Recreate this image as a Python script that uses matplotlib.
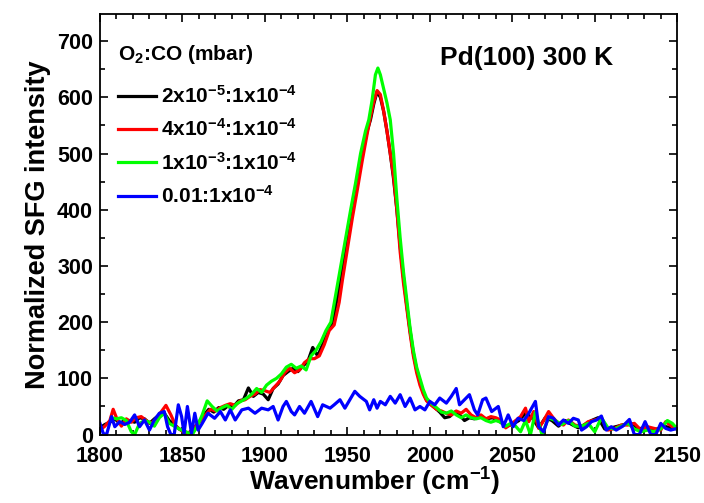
import matplotlib
matplotlib.use("Agg")
import matplotlib.pyplot as plt
from matplotlib.ticker import MultipleLocator

plt.rcParams["font.family"] = "Liberation Sans"
plt.rcParams["font.weight"] = "bold"
plt.rcParams["mathtext.fontset"] = "custom"
plt.rcParams["mathtext.rm"] = "Liberation Sans:bold"
plt.rcParams["mathtext.it"] = "Liberation Sans:bold"
plt.rcParams["mathtext.bf"] = "Liberation Sans:bold"
plt.rcParams["mathtext.default"] = "rm"

# O2:CO = 2e-5 : 1e-4 (black)
wn_k = [1800, 1803, 1806, 1809, 1812, 1815, 1818, 1821, 1824, 1827, 1830, 1833, 1836, 1839,
        1842, 1845, 1848, 1851, 1854, 1857, 1860, 1863, 1866, 1869, 1872, 1875, 1878, 1881,
        1884, 1887, 1890, 1893, 1896, 1899, 1902, 1905, 1908, 1911, 1914, 1917, 1920, 1923,
        1926, 1929, 1932, 1935, 1938, 1941, 1944, 1947, 1950, 1953, 1956, 1959, 1962, 1964,
        1966, 1968, 1970, 1972, 1974, 1976, 1978, 1980, 1982, 1984, 1986, 1988, 1990, 1992,
        1994, 1996, 1998, 2000, 2003, 2006, 2009, 2012, 2015, 2018, 2021, 2024, 2027, 2030,
        2034, 2038, 2042, 2046, 2050, 2054, 2058, 2062, 2066, 2070, 2074, 2078, 2082, 2086,
        2090, 2094, 2098, 2102, 2106, 2110, 2114, 2118, 2122, 2126, 2130, 2134, 2138, 2142,
        2146, 2150]
int_k = [12, 18, 22, 28, 20, 25, 25, 22, 30, 28, 20, 28, 35, 38,
         25, 18, 10, 5, 3, 12, 22, 35, 45, 40, 48, 45, 52, 50,
         60, 62, 83, 68, 75, 72, 62, 82, 90, 105, 112, 118, 112, 122,
         130, 155, 140, 160, 185, 200, 245, 295, 345, 395, 445, 497, 540, 560,
         588, 610, 600, 575, 540, 500, 455, 400, 335, 280, 230, 185, 145, 115,
         95, 75, 62, 55, 48, 40, 30, 32, 40, 35, 25, 30, 28, 33,
         28, 30, 24, 15, 18, 25, 38, 30, 12, 30, 25, 15, 25, 18,
         12, 18, 25, 30, 10, 12, 15, 18, 20, 10, 12, 8, 10, 15,
         12, 10]

# O2:CO = 4e-4 : 1e-4 (red)
wn_r = [1800, 1803, 1806, 1808, 1810, 1813, 1816, 1819, 1822, 1825, 1828, 1831, 1834, 1837,
        1840, 1843, 1846, 1849, 1852, 1855, 1858, 1861, 1864, 1867, 1870, 1873, 1876, 1879,
        1882, 1885, 1888, 1891, 1894, 1897, 1900, 1903, 1906, 1909, 1912, 1915, 1918, 1921,
        1924, 1927, 1930, 1933, 1936, 1939, 1942, 1945, 1947, 1950, 1953, 1956, 1959, 1962,
        1964, 1966, 1968, 1970, 1972, 1974, 1976, 1978, 1980, 1982, 1984, 1986, 1988, 1990,
        1992, 1994, 1996, 1998, 2001, 2004, 2007, 2010, 2013, 2016, 2019, 2022, 2025, 2028,
        2031, 2034, 2037, 2040, 2043, 2046, 2049, 2052, 2055, 2058, 2060, 2063, 2066, 2069,
        2072, 2075, 2078, 2081, 2084, 2088, 2092, 2096, 2100, 2104, 2108, 2112, 2116, 2120,
        2124, 2128, 2132, 2136, 2140, 2143, 2147, 2150]
int_r = [8, 15, 25, 45, 30, 15, 28, 22, 30, 32, 25, 20, 28, 40,
         52, 35, 15, 8, 2, 5, 15, 25, 35, 45, 42, 48, 52, 55,
         52, 60, 62, 68, 72, 80, 78, 75, 85, 95, 110, 118, 110, 115,
         128, 135, 135, 140, 160, 185, 195, 235, 275, 330, 385, 435, 487, 535,
         565, 592, 612, 605, 575, 540, 500, 460, 400, 325, 270, 225, 180, 140,
         110, 88, 72, 60, 52, 45, 42, 38, 35, 42, 38, 45, 35, 30,
         35, 28, 32, 30, 26, 12, 18, 25, 32, 47, 23, 41, 11, 25,
         41, 29, 20, 17, 26, 17, 14, 23, 26, 29, 8, 11, 17, 17,
         20, 8, 14, 11, 8, 23, 14, 14]

# O2:CO = 1e-3 : 1e-4 (green)
wn_g = [1807, 1810, 1813, 1816, 1819, 1821, 1824, 1827, 1830, 1833, 1836, 1839, 1842, 1845,
        1848, 1852, 1856, 1859, 1862, 1865, 1868, 1871, 1874, 1877, 1880, 1883, 1886, 1889,
        1892, 1895, 1898, 1901, 1904, 1907, 1910, 1913, 1916, 1919, 1922, 1925, 1928, 1931,
        1934, 1937, 1940, 1943, 1946, 1949, 1952, 1955, 1958, 1961, 1963, 1965, 1967, 1968.5,
        1970, 1972, 1974, 1976, 1978, 1980, 1982, 1984, 1986, 1988, 1990, 1992, 1994, 1996,
        1998, 2001, 2004, 2007, 2010, 2013, 2016, 2019, 2022, 2025, 2028, 2031, 2034, 2037,
        2040, 2043, 2046, 2049, 2052, 2055, 2058, 2061, 2064, 2068, 2072, 2076, 2080, 2084,
        2088, 2092, 2096, 2100, 2104, 2108, 2112, 2116, 2120, 2124, 2128, 2132, 2136, 2140,
        2144, 2147, 2150]
int_g = [30, 28, 30, 25, 5, 0, 20, 25, 22, 15, 30, 38, 20, 15,
         10, 5, 0, 15, 35, 60, 50, 42, 48, 52, 45, 55, 60, 65,
         72, 82, 75, 88, 95, 100, 108, 120, 125, 118, 122, 115, 140, 150,
         165, 185, 200, 250, 300, 350, 400, 448, 500, 540, 560, 595, 640, 652,
         640, 615, 590, 560, 500, 420, 350, 290, 240, 190, 150, 120, 100, 80,
         65, 55, 48, 40, 38, 42, 35, 30, 35, 30, 28, 30, 25, 22,
         25, 22, 15, 20, 15, 5, 25, 0, 40, 0, 30, 25, 18, 25,
         15, 15, 20, 5, 30, 12, 10, 15, 20, 10, 5, 8, 5, 10,
         25, 20, 10]

# O2:CO = 0.01 : 1e-4 (blue)
wn_b = [1800, 1802, 1804, 1807, 1809, 1812, 1815, 1818, 1821, 1824, 1827, 1830, 1833, 1836,
        1839, 1841, 1843, 1845, 1847.5, 1849.5, 1851, 1853, 1855.5, 1857.5, 1859.5, 1862,
        1865.5, 1869.5, 1873, 1876, 1879, 1882, 1886, 1890, 1894, 1898, 1902, 1905, 1908,
        1911, 1913, 1916, 1918, 1921, 1924, 1928, 1932, 1935, 1939.5, 1942, 1945.5, 1948.5,
        1951.5, 1954.5, 1957.5, 1961.5, 1963.5, 1966, 1968, 1970, 1973, 1976, 1979, 1982,
        1985, 1988, 1991, 1994, 1997, 2000, 2003, 2006, 2010, 2013, 2016, 2018, 2021, 2024,
        2027, 2029, 2032, 2034, 2037.5, 2041.5, 2044.5, 2047.5, 2050.5, 2053.5, 2057, 2060,
        2064, 2066, 2069, 2072, 2075, 2078, 2081, 2084, 2087, 2090, 2092, 2095, 2098, 2101,
        2104, 2107, 2110, 2113, 2117, 2121, 2124, 2127, 2130.5, 2134, 2137, 2140, 2143, 2146,
        2150]
int_b = [20, 2, 0, 32, 14, 23, 18, 22, 35, 14, 26, 8, 26, 38,
         41, 14, 0, 0, 53, 32, 2, 50, 2, 38, 8, 20,
         38, 29, 41, 26, 44, 26, 44, 47, 38, 47, 44, 50, 26,
         50, 59, 41, 35, 50, 38, 59, 32, 53, 47, 53, 62, 47,
         62, 77, 68, 59, 44, 62, 47, 59, 53, 68, 56, 71,
         50, 65, 44, 50, 44, 59, 53, 65, 56, 68, 82, 53, 62, 71,
         44, 35, 62, 65, 41, 50, 14, 35, 14, 29, 25, 38,
         59, 14, 5, 32, 29, 17, 26, 20, 29, 26, 8, 14, 23, 26,
         33, 8, 14, 8, 15, 27, 0, 0, 23, 0, 0, 20, 11, 8,
         11]

labels = ["2x10$^{-5}$:1x10$^{-4}$", "4x10$^{-4}$:1x10$^{-4}$",
          "1x10$^{-3}$:1x10$^{-4}$", "0.01:1x10$^{-4}$"]

fig = plt.figure(figsize=(7.04, 5.03), dpi=100)
ax = fig.add_axes([0.142, 0.136, 0.820, 0.836])

ax.plot(wn_k, int_k, color="#000000", lw=2.3, label=labels[0])
ax.plot(wn_r, int_r, color="#ff0000", lw=2.3, label=labels[1])
ax.plot(wn_g, int_g, color="#00ff00", lw=2.3, label=labels[2])
ax.plot(wn_b, int_b, color="#0000ff", lw=2.3, label=labels[3])

ax.set_xlim(1800, 2150)
ax.set_ylim(0, 748)
ax.xaxis.set_major_locator(MultipleLocator(50))
ax.xaxis.set_minor_locator(MultipleLocator(10))
ax.yaxis.set_major_locator(MultipleLocator(100))
ax.yaxis.set_minor_locator(MultipleLocator(50))
ax.tick_params(which="both", direction="in", top=True, right=True, width=1.2,
               labelsize=15.5)
ax.tick_params(axis="x", pad=8)
ax.tick_params(axis="y", pad=5)
ax.tick_params(which="major", length=6)
ax.tick_params(which="minor", length=3.5)
for lab in ax.get_xticklabels() + ax.get_yticklabels():
    lab.set_fontweight("bold")
for s in ax.spines.values():
    s.set_linewidth(1.3)

ax.set_xlabel("Wavenumber (cm$^{-1}$)", fontsize=19, fontweight="bold", labelpad=3)
ax.xaxis.set_label_coords(0.475, -0.075)
ax.set_ylabel("Normalized SFG intensity", fontsize=19.5, fontweight="bold", labelpad=4)

ax.text(0.589, 0.879, "Pd(100) 300 K", transform=ax.transAxes, fontsize=19,
        fontweight="bold")

leg = ax.legend(loc="upper left", bbox_to_anchor=(0.01, 0.962), frameon=False,
                title="O$_2$:CO (mbar)", fontsize=15, title_fontsize=15,
                handlelength=1.8, handletextpad=0.25, labelspacing=0.55,
                borderaxespad=0.2)
leg._legend_box.align = "left"
leg._legend_box.sep = 14
for t in leg.get_texts():
    t.set_fontweight("bold")
leg.get_title().set_fontweight("bold")

fig.savefig("out.png", dpi=100)
